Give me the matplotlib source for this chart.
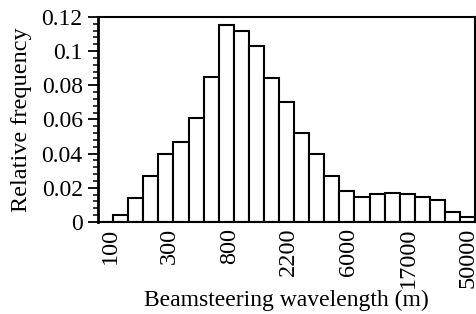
import numpy as np
import matplotlib.pyplot as plt
from matplotlib.ticker import MultipleLocator

plt.rcParams['font.family'] = ['Liberation Serif', 'DejaVu Serif']

# relative frequency of each wavelength bin (25 log-spaced bins)
rel_freq = [0.0, 0.004, 0.014, 0.027, 0.040, 0.047, 0.061, 0.085, 0.115, 0.112,
            0.103, 0.084, 0.070, 0.052, 0.040, 0.027, 0.018, 0.0145, 0.0165,
            0.017, 0.0165, 0.0145, 0.013, 0.006, 0.003]
tick_labels = ["100", "300", "800", "2200", "6000", "17000", "50000"]

fig = plt.figure(figsize=(4.77, 3.14), dpi=100)
ax = fig.add_axes([0.2055, 0.293, 0.7905, 0.653])

x = np.arange(len(rel_freq))
ax.bar(x, rel_freq, width=1.0, align='edge', color='white',
       edgecolor='black', linewidth=1.5)

ax.set_xlim(0, len(rel_freq))
ax.set_ylim(0, 0.12)

# ticks sit every 4 bins
ax.set_xticks(0.8 + 3.95 * np.arange(len(tick_labels)))
ax.set_xticklabels(tick_labels, rotation=90, va='top', ha='center')
ax.tick_params(axis='x', length=0, pad=4, labelsize=17.5)

ax.set_yticks([0, 0.02, 0.04, 0.06, 0.08, 0.1, 0.12])
ax.set_yticklabels(["0", "0.02", "0.04", "0.06", "0.08", "0.1", "0.12"])
ax.yaxis.set_minor_locator(MultipleLocator(0.004))
ax.tick_params(axis='y', which='major', length=7, width=1.3, pad=4, labelsize=17)
ax.tick_params(axis='y', which='minor', length=3.5, width=1.1)

for s in ax.spines.values():
    s.set_linewidth(1.5)
ax.spines['left'].set_linewidth(2)

ax.set_xlabel("Beamsteering wavelength (m)", fontsize=17, labelpad=1)
ax.set_ylabel("Relative frequency", fontsize=17.5, labelpad=7)

fig.savefig("out.png", dpi=100)
